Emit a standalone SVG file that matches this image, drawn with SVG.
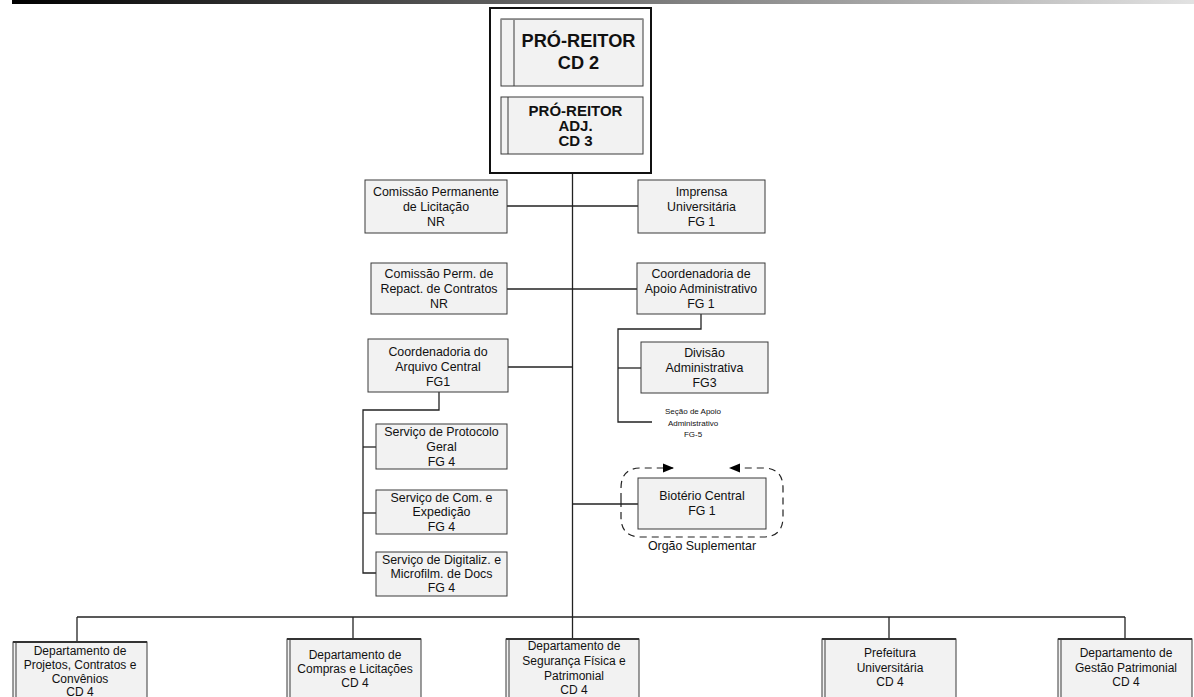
<svg xmlns="http://www.w3.org/2000/svg" width="1194" height="697" viewBox="0 0 1194 697">
  <defs>
    <linearGradient id="topBar" x1="12" y1="0" x2="1194" y2="0" gradientUnits="userSpaceOnUse">
      <stop offset="0" stop-color="#000"/>
      <stop offset="1" stop-color="#e2e2e2"/>
    </linearGradient>
    <marker id="arrowHead" markerWidth="11" markerHeight="10" refX="10" refY="5" orient="auto" markerUnits="userSpaceOnUse">
      <path d="M0,0.5 L11,5 L0,9.5 Z" fill="#000"/>
    </marker>
    <style>
      .box { fill: #f2f2f2; stroke: #3a3a3a; stroke-width: 1; }
      .edge { fill: none; stroke: #222; stroke-width: 1.3; }
      .bar { fill: none; stroke: #3a3a3a; stroke-width: 1; }
      .lbl { font-family: "Liberation Sans", Arial, sans-serif; font-size: 12.4px; fill: #111; text-anchor: middle; }
      .dept { font-family: "Liberation Sans", Arial, sans-serif; font-size: 12px; fill: #111; text-anchor: middle; }
      .small { font-family: "Liberation Sans", Arial, sans-serif; font-size: 8px; fill: #111; text-anchor: middle; }
      .bold { font-family: "Liberation Sans", Arial, sans-serif; font-weight: bold; fill: #111; text-anchor: middle; }
      .dash { fill: none; stroke: #222; stroke-width: 1.2; stroke-dasharray: 7 5; }
    </style>
  </defs>

  <rect x="12" y="0" width="1182" height="4" fill="url(#topBar)"/>

  <!-- connectors -->
  <g id="connectors">
    <line class="edge" x1="572.5" y1="173" x2="572.5" y2="617"/>
    <line class="edge" x1="572.5" y1="86" x2="572.5" y2="97"/>
    <line class="edge" x1="507" y1="206" x2="638" y2="206"/>
    <line class="edge" x1="507" y1="289" x2="637" y2="289"/>
    <line class="edge" x1="508" y1="367" x2="572.5" y2="367"/>
    <line class="edge" x1="572.5" y1="504" x2="638" y2="504"/>
    <!-- Coordenadoria de Apoio branch -->
    <polyline class="edge" points="701,314 701,329 618,329 618,422 652,422"/>
    <line class="edge" x1="618" y1="368" x2="641" y2="368"/>
    <!-- Arquivo Central branch -->
    <polyline class="edge" points="439,392 439,410 363,410 363,573 376,573"/>
    <line class="edge" x1="363" y1="447" x2="376" y2="447"/>
    <line class="edge" x1="363" y1="513" x2="376" y2="513"/>
    <!-- bottom bus -->
    <line class="edge" x1="77" y1="617" x2="1125" y2="617"/>
    <line class="edge" x1="77" y1="617" x2="77" y2="642"/>
    <line class="edge" x1="353" y1="617" x2="353" y2="639"/>
    <line class="edge" x1="572.5" y1="617" x2="572.5" y2="639"/>
    <line class="edge" x1="889" y1="617" x2="889" y2="639"/>
    <line class="edge" x1="1125" y1="617" x2="1125" y2="639"/>
    <!-- supplementary organ outline -->
    <path class="dash" d="M621,500 L621,488 Q621,468 641,468 L673,468" marker-end="url(#arrowHead)"/>
    <path class="dash" d="M621,500 L621,517 Q621,537 641,537 L763,537 Q783,537 783,517 L783,488 Q783,468 763,468 L730,468" marker-end="url(#arrowHead)"/>
  </g>

  <!-- top: Pró-Reitor -->
  <g id="pro-reitor-frame">
    <rect x="490" y="8" width="161" height="165" fill="#fff" stroke="#111" stroke-width="2"/>
  </g>
  <g id="pro-reitor">
    <rect class="box" x="501" y="19" width="142" height="67"/>
    <line class="bar" x1="514" y1="19" x2="514" y2="86"/>
    <line x1="501" y1="19.5" x2="643" y2="19.5" stroke="#888" stroke-width="1"/>
    <text class="bold" font-size="18.2" x="578.5" y="47">PRÓ-REITOR</text>
    <text class="bold" font-size="18.2" x="578.5" y="69">CD 2</text>
  </g>
  <g id="pro-reitor-adj">
    <rect class="box" x="501" y="97" width="142" height="57"/>
    <line class="bar" x1="508" y1="97" x2="508" y2="154"/>
    <text class="bold" font-size="15" x="575.5" y="116">PRÓ-REITOR</text>
    <text class="bold" font-size="15" x="575.5" y="131">ADJ.</text>
    <text class="bold" font-size="15" x="575.5" y="146">CD 3</text>
  </g>

  <!-- staff units -->
  <g id="cpl">
    <rect class="box" x="365" y="180" width="142" height="53"/>
    <text class="lbl" x="436" y="196">Comissão Permanente</text>
    <text class="lbl" x="436" y="211">de Licitação</text>
    <text class="lbl" x="436" y="226">NR</text>
  </g>
  <g id="imprensa">
    <rect class="box" x="638" y="180" width="127" height="53"/>
    <text class="lbl" x="701.5" y="196">Imprensa</text>
    <text class="lbl" x="701.5" y="211">Universitária</text>
    <text class="lbl" x="701.5" y="226">FG 1</text>
  </g>
  <g id="cprc">
    <rect class="box" x="371" y="263" width="136" height="51"/>
    <text class="lbl" x="439" y="278">Comissão Perm. de</text>
    <text class="lbl" x="439" y="293">Repact. de Contratos</text>
    <text class="lbl" x="439" y="308">NR</text>
  </g>
  <g id="coord-apoio">
    <rect class="box" x="637" y="263" width="128" height="51"/>
    <text class="lbl" x="701" y="278">Coordenadoria de</text>
    <text class="lbl" x="701" y="293">Apoio Administrativo</text>
    <text class="lbl" x="701" y="308">FG 1</text>
  </g>
  <g id="coord-arquivo">
    <rect class="box" x="368" y="339" width="140" height="53"/>
    <text class="lbl" x="438" y="356">Coordenadoria do</text>
    <text class="lbl" x="438" y="371">Arquivo Central</text>
    <text class="lbl" x="438" y="386">FG1</text>
  </g>
  <g id="divisao">
    <rect class="box" x="641" y="342" width="127" height="51"/>
    <text class="lbl" x="704.5" y="357">Divisão</text>
    <text class="lbl" x="704.5" y="372">Administrativa</text>
    <text class="lbl" x="704.5" y="387">FG3</text>
  </g>
  <g id="secao-apoio">
    <text class="small" x="693" y="414">Seção de Apoio</text>
    <text class="small" x="693" y="426">Administrativo</text>
    <text class="small" x="693" y="437">FG-5</text>
  </g>
  <g id="protocolo">
    <rect class="box" x="376" y="424" width="131" height="45"/>
    <text class="lbl" x="441.5" y="436">Serviço de Protocolo</text>
    <text class="lbl" x="441.5" y="451">Geral</text>
    <text class="lbl" x="441.5" y="466">FG 4</text>
  </g>
  <g id="expedicao">
    <rect class="box" x="376" y="490" width="131" height="44"/>
    <text class="lbl" x="441.5" y="502">Serviço de Com. e</text>
    <text class="lbl" x="441.5" y="516">Expedição</text>
    <text class="lbl" x="441.5" y="531">FG 4</text>
  </g>
  <g id="digitalizacao">
    <rect class="box" x="376" y="552" width="131" height="44"/>
    <text class="lbl" x="441.5" y="564">Serviço de Digitaliz. e</text>
    <text class="lbl" x="441.5" y="578">Microfilm. de Docs</text>
    <text class="lbl" x="441.5" y="592">FG 4</text>
  </g>
  <g id="bioterio">
    <rect class="box" x="638" y="478" width="128" height="51"/>
    <text class="lbl" x="702" y="500">Biotério Central</text>
    <text class="lbl" x="702" y="515">FG 1</text>
    <text class="lbl" x="702" y="550">Orgão Suplementar</text>
  </g>

  <!-- departments -->
  <g id="dep-projetos">
    <rect class="box" x="13" y="642" width="134" height="70"/>
    <line class="bar" x1="16" y1="642" x2="16" y2="712"/>
    <line x1="13" y1="642" x2="147" y2="642" stroke="#333" stroke-width="1.8"/>
    <text class="dept" x="80" y="655">Departamento de</text>
    <text class="dept" x="80" y="669">Projetos, Contratos e</text>
    <text class="dept" x="80" y="683">Convênios</text>
    <text class="dept" x="80" y="696">CD 4</text>
  </g>
  <g id="dep-compras">
    <rect class="box" x="287" y="639" width="134" height="70"/>
    <line class="bar" x1="290" y1="639" x2="290" y2="709"/>
    <line x1="287" y1="639" x2="421" y2="639" stroke="#333" stroke-width="1.8"/>
    <text class="dept" x="355" y="659">Departamento de</text>
    <text class="dept" x="355" y="673">Compras e Licitações</text>
    <text class="dept" x="355" y="687">CD 4</text>
  </g>
  <g id="dep-seguranca">
    <rect class="box" x="506" y="639" width="133" height="70"/>
    <line class="bar" x1="509" y1="639" x2="509" y2="709"/>
    <line x1="506" y1="639" x2="639" y2="639" stroke="#333" stroke-width="1.8"/>
    <text class="dept" x="574" y="650">Departamento de</text>
    <text class="dept" x="574" y="665">Segurança Física e</text>
    <text class="dept" x="574" y="680">Patrimonial</text>
    <text class="dept" x="574" y="694">CD 4</text>
  </g>
  <g id="prefeitura">
    <rect class="box" x="822" y="639" width="134" height="70"/>
    <line class="bar" x1="825" y1="639" x2="825" y2="709"/>
    <line x1="822" y1="639" x2="956" y2="639" stroke="#333" stroke-width="1.8"/>
    <text class="dept" x="890" y="657">Prefeitura</text>
    <text class="dept" x="890" y="672">Universitária</text>
    <text class="dept" x="890" y="686">CD 4</text>
  </g>
  <g id="dep-patrimonial">
    <rect class="box" x="1058" y="639" width="134" height="70"/>
    <line class="bar" x1="1061" y1="639" x2="1061" y2="709"/>
    <line x1="1058" y1="639" x2="1192" y2="639" stroke="#333" stroke-width="1.8"/>
    <text class="dept" x="1126" y="657">Departamento de</text>
    <text class="dept" x="1126" y="672">Gestão Patrimonial</text>
    <text class="dept" x="1126" y="686">CD 4</text>
  </g>
</svg>
